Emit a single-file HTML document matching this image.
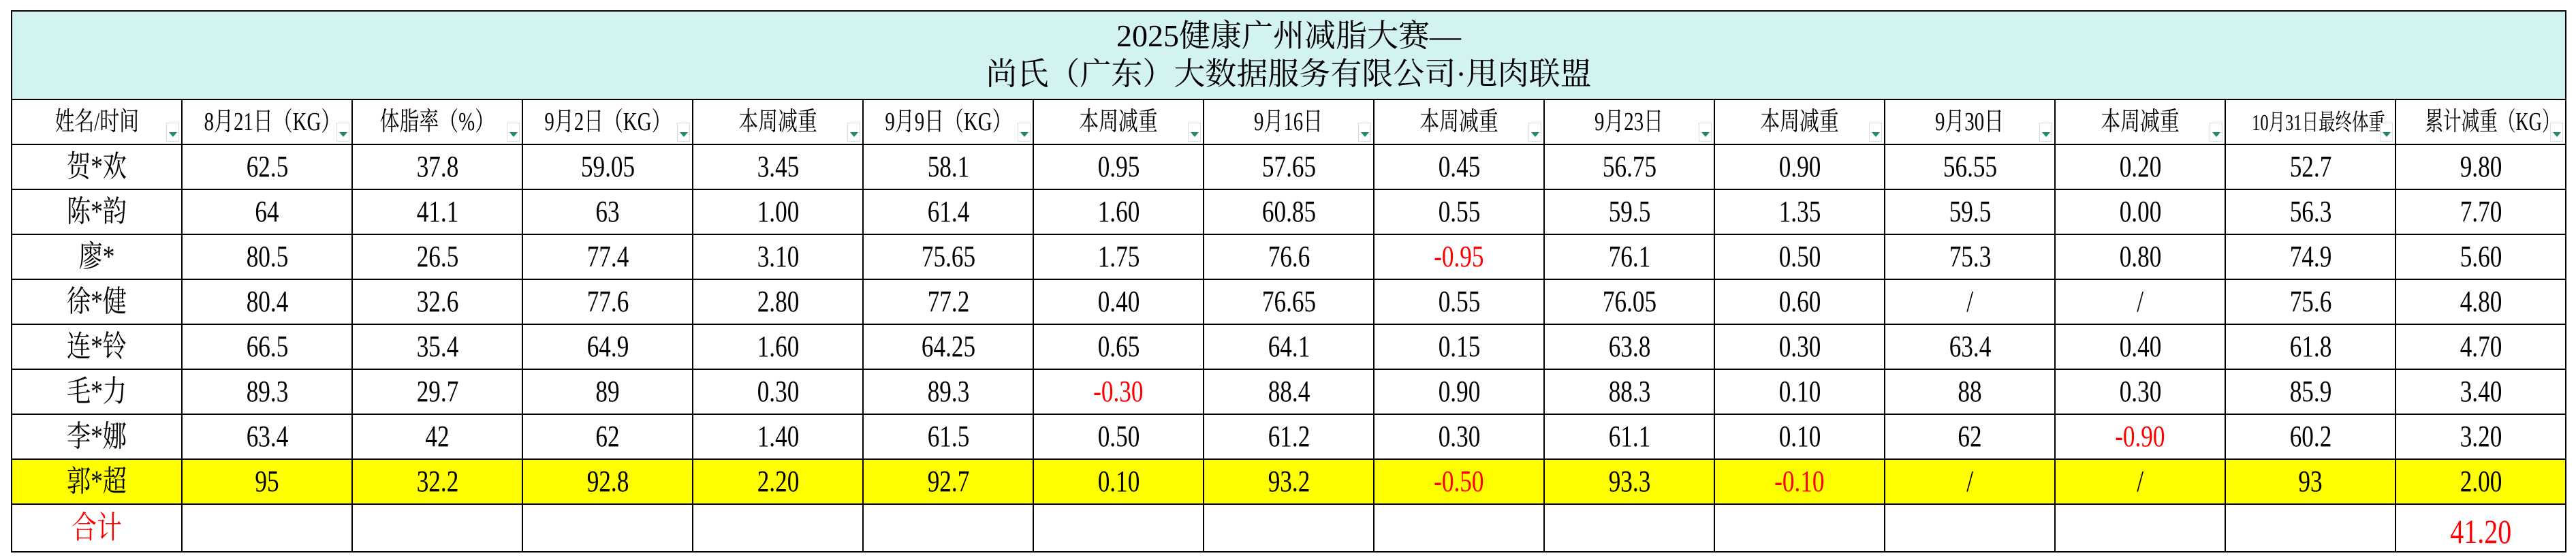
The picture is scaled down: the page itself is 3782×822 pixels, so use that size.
<!DOCTYPE html>
<html><head><meta charset="utf-8"><style>
html,body{margin:0;padding:0;background:#fff;width:3782px;height:822px;overflow:hidden}
table{position:absolute;left:16px;top:15px;border-collapse:collapse;table-layout:fixed;width:3750px}
td{border:2px solid #000;text-align:center;vertical-align:middle;padding:0;font-family:"Liberation Serif","Noto Serif CJK SC",serif;font-size:44px;line-height:1;color:#000;position:relative;overflow:hidden;white-space:nowrap}
td span{display:inline-block;transform:scaleX(0.8)}
.t td{background:#d3f3f2;height:128px;font-size:46px;line-height:56px}
.h td{height:64px;font-size:38px}
.h td span{transform:scaleX(0.76)}
.r td{height:64px}
.y td{background:#ffff00}
.red{color:#ff0000}
.dd{position:absolute;right:3px;bottom:3px;width:17px;height:26px;border:1px solid #ddd;background:#fff}
.dd:after{content:"";position:absolute;left:3px;top:13px;border-left:6px solid transparent;border-right:6px solid transparent;border-top:7px solid #1e8c64}
.tot td{height:64px}
</style></head><body>
<table>
<colgroup><col style="width:250px"><col style="width:250px"><col style="width:250px"><col style="width:250px"><col style="width:250px"><col style="width:250px"><col style="width:250px"><col style="width:250px"><col style="width:250px"><col style="width:250px"><col style="width:250px"><col style="width:250px"><col style="width:250px"><col style="width:250px"><col style="width:250px"></colgroup>
<tr class="t"><td colspan="15"><span style="transform:none">2025健康广州减脂大赛—<br>尚氏（广东）大数据服务有限公司·甩肉联盟</span></td></tr>
<tr class="h">
<td><span>姓名/时间</span><div class="dd"></div></td>
<td><span>8月21日（KG）</span><div class="dd"></div></td>
<td><span>体脂率（%）</span><div class="dd"></div></td>
<td><span>9月2日（KG）</span><div class="dd"></div></td>
<td><span>本周减重</span><div class="dd"></div></td>
<td><span>9月9日（KG）</span><div class="dd"></div></td>
<td><span>本周减重</span><div class="dd"></div></td>
<td><span>9月16日</span><div class="dd"></div></td>
<td><span>本周减重</span><div class="dd"></div></td>
<td><span>9月23日</span><div class="dd"></div></td>
<td><span>本周减重</span><div class="dd"></div></td>
<td><span>9月30日</span><div class="dd"></div></td>
<td><span>本周减重</span><div class="dd"></div></td>
<td><span style="font-size:34px;transform:scaleX(0.72)">10月31日最终体重</span><div class="dd"></div></td>
<td><span style="transform:scaleX(0.7)">累计减重（KG）</span><div class="dd"></div></td>
</tr>
<tr class="r"><td><span>贺*欢</span></td><td><span>62.5</span></td><td><span>37.8</span></td><td><span>59.05</span></td><td><span>3.45</span></td><td><span>58.1</span></td><td><span>0.95</span></td><td><span>57.65</span></td><td><span>0.45</span></td><td><span>56.75</span></td><td><span>0.90</span></td><td><span>56.55</span></td><td><span>0.20</span></td><td><span>52.7</span></td><td><span>9.80</span></td></tr>
<tr class="r"><td><span>陈*韵</span></td><td><span>64</span></td><td><span>41.1</span></td><td><span>63</span></td><td><span>1.00</span></td><td><span>61.4</span></td><td><span>1.60</span></td><td><span>60.85</span></td><td><span>0.55</span></td><td><span>59.5</span></td><td><span>1.35</span></td><td><span>59.5</span></td><td><span>0.00</span></td><td><span>56.3</span></td><td><span>7.70</span></td></tr>
<tr class="r"><td><span>廖*</span></td><td><span>80.5</span></td><td><span>26.5</span></td><td><span>77.4</span></td><td><span>3.10</span></td><td><span>75.65</span></td><td><span>1.75</span></td><td><span>76.6</span></td><td class="red"><span>-0.95</span></td><td><span>76.1</span></td><td><span>0.50</span></td><td><span>75.3</span></td><td><span>0.80</span></td><td><span>74.9</span></td><td><span>5.60</span></td></tr>
<tr class="r"><td><span>徐*健</span></td><td><span>80.4</span></td><td><span>32.6</span></td><td><span>77.6</span></td><td><span>2.80</span></td><td><span>77.2</span></td><td><span>0.40</span></td><td><span>76.65</span></td><td><span>0.55</span></td><td><span>76.05</span></td><td><span>0.60</span></td><td><span>/</span></td><td><span>/</span></td><td><span>75.6</span></td><td><span>4.80</span></td></tr>
<tr class="r"><td><span>连*铃</span></td><td><span>66.5</span></td><td><span>35.4</span></td><td><span>64.9</span></td><td><span>1.60</span></td><td><span>64.25</span></td><td><span>0.65</span></td><td><span>64.1</span></td><td><span>0.15</span></td><td><span>63.8</span></td><td><span>0.30</span></td><td><span>63.4</span></td><td><span>0.40</span></td><td><span>61.8</span></td><td><span>4.70</span></td></tr>
<tr class="r"><td><span>毛*力</span></td><td><span>89.3</span></td><td><span>29.7</span></td><td><span>89</span></td><td><span>0.30</span></td><td><span>89.3</span></td><td class="red"><span>-0.30</span></td><td><span>88.4</span></td><td><span>0.90</span></td><td><span>88.3</span></td><td><span>0.10</span></td><td><span>88</span></td><td><span>0.30</span></td><td><span>85.9</span></td><td><span>3.40</span></td></tr>
<tr class="r"><td><span>李*娜</span></td><td><span>63.4</span></td><td><span>42</span></td><td><span>62</span></td><td><span>1.40</span></td><td><span>61.5</span></td><td><span>0.50</span></td><td><span>61.2</span></td><td><span>0.30</span></td><td><span>61.1</span></td><td><span>0.10</span></td><td><span>62</span></td><td class="red"><span>-0.90</span></td><td><span>60.2</span></td><td><span>3.20</span></td></tr>
<tr class="r y"><td><span>郭*超</span></td><td><span>95</span></td><td><span>32.2</span></td><td><span>92.8</span></td><td><span>2.20</span></td><td><span>92.7</span></td><td><span>0.10</span></td><td><span>93.2</span></td><td class="red"><span>-0.50</span></td><td><span>93.3</span></td><td class="red"><span>-0.10</span></td><td><span>/</span></td><td><span>/</span></td><td><span>93</span></td><td><span>2.00</span></td></tr>
<tr class="tot"><td class="red" style="font-size:46px"><span>合计</span></td><td></td><td></td><td></td><td></td><td></td><td></td><td></td><td></td><td></td><td></td><td></td><td></td><td></td><td class="red" style="font-size:50px;vertical-align:bottom;padding-bottom:4px"><span>41.20</span></td></tr>
</table>
</body></html>
